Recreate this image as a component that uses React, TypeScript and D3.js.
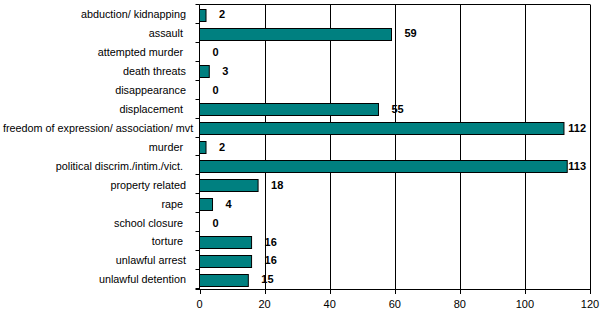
import React, { useEffect, useRef } from "react";
import * as d3 from "d3";

const categories = [
  "abduction/ kidnapping",
  "assault ",
  "attempted murder ",
  "death threats",
  "disappearance",
  "displacement ",
  "freedom of expression/ association/ mvt",
  "murder ",
  "political discrim./intim./vict. ",
  "property related",
  "rape ",
  "school closure ",
  "torture ",
  "unlawful arrest",
  "unlawful detention",
];
const values = [2, 59, 0, 3, 0, 55, 112, 2, 113, 18, 4, 0, 16, 16, 15];
const xTicks = [0, 20, 40, 60, 80, 100, 120];

const W = 607;
const H = 316;
const margin = { left: 199.5, right: 17, top: 5, bottom: 27 };
const FONT = "Arial, 'Liberation Sans', sans-serif";

export default function App() {
  const ref = useRef<SVGSVGElement>(null);

  useEffect(() => {
    const svg = d3.select(ref.current);
    svg.selectAll("*").remove();
    const x = d3.scaleLinear().domain([0, 120]).range([margin.left, W - margin.right]);
    const y = d3
      .scaleBand<string>()
      .domain(categories)
      .range([margin.top, H - margin.bottom])
      .paddingInner(0.38)
      .paddingOuter(0.19);
    const y0 = margin.top;
    const y1 = H - margin.bottom;
    const step = y.step();

    // gridlines
    svg
      .append("g")
      .selectAll("line")
      .data(xTicks.filter((t) => t > 0))
      .join("line")
      .attr("x1", (d) => Math.round(x(d)) + 0.5)
      .attr("x2", (d) => Math.round(x(d)) + 0.5)
      .attr("y1", y0)
      .attr("y2", y1)
      .attr("stroke", "#000")
      .attr("stroke-width", 1);
    // top border
    svg
      .append("line")
      .attr("x1", x(0))
      .attr("x2", Math.round(x(120)) + 0.5)
      .attr("y1", y0 - 0.5)
      .attr("y2", y0 - 0.5)
      .attr("stroke", "#000");

    // bars
    svg
      .append("g")
      .selectAll("rect")
      .data(values)
      .join("rect")
      .attr("x", x(0))
      .attr("y", (d, i) => Math.round(y(categories[i])!) + 0.5)
      .attr("width", (d) => Math.max(0, x(d) - x(0)))
      .attr("height", Math.round(y.bandwidth()))
      .attr("fill", "#008080")
      .attr("stroke", "#000")
      .attr("stroke-width", 1)
      .style("display", (d) => (d === 0 ? "none" : null));

    // value labels
    const vl = svg
      .append("g")
      .selectAll("text")
      .data(values)
      .join("text")
      .attr("x", (d) => x(d) + 13)
      .attr("y", (d, i) => y(categories[i])! + y.bandwidth() / 2)
      .attr("dy", "0.35em")
      .attr("font-family", FONT)
      .attr("font-size", 11)
      .attr("font-weight", "bold")
      .attr("fill", "#000")
      .text((d) => String(d));
    const maxEnd = x(120) - 4;
    vl.each(function (d) {
      const t = this as SVGTextElement;
      const w = t.getComputedTextLength();
      const start = x(d as number) + 13;
      if (start + w > maxEnd) d3.select(t).attr("x", maxEnd - w);
    });

    // left axis
    svg
      .append("line")
      .attr("x1", x(0))
      .attr("x2", x(0))
      .attr("y1", y0 - 0.5)
      .attr("y2", y1)
      .attr("stroke", "#000");
    svg
      .append("g")
      .selectAll("line")
      .data(d3.range(categories.length + 1))
      .join("line")
      .attr("x1", x(0) - 4)
      .attr("x2", x(0))
      .attr("y1", (i) => Math.round(y0 + i * step) - 0.5)
      .attr("y2", (i) => Math.round(y0 + i * step) - 0.5)
      .attr("stroke", "#000");
    const catText = svg
      .append("g")
      .selectAll("text")
      .data(categories)
      .join("text")
      .attr("x", 186)
      .attr("y", (d) => y(d)! + y.bandwidth() / 2)
      .attr("dy", "0.35em")
      .attr("text-anchor", "end")
      .attr("font-family", FONT)
      .attr("font-size", 10.8)
      .attr("fill", "#000")
      .style("white-space", "pre")
      .text((d) => d);
    catText.each(function () {
      const t = this as SVGTextElement;
      const w = t.getComputedTextLength();
      if (186 - w < 3) {
        d3.select(t).attr("text-anchor", "start").attr("x", 3);
      }
    });

    // bottom axis
    svg
      .append("line")
      .attr("x1", x(0) - 4)
      .attr("x2", Math.round(x(120)) + 0.5)
      .attr("y1", y1 + 0.5)
      .attr("y2", y1 + 0.5)
      .attr("stroke", "#000");
    svg
      .append("g")
      .selectAll("line")
      .data(xTicks)
      .join("line")
      .attr("x1", (d) => Math.round(x(d)) + 0.5)
      .attr("x2", (d) => Math.round(x(d)) + 0.5)
      .attr("y1", y1)
      .attr("y2", y1 + 5)
      .attr("stroke", "#000");
    svg
      .append("g")
      .selectAll("text")
      .data(xTicks)
      .join("text")
      .attr("x", (d) => x(d))
      .attr("y", y1 + 19)
      .attr("text-anchor", "middle")
      .attr("font-family", FONT)
      .attr("font-size", 11)
      .attr("fill", "#000")
      .text((d) => String(d));
  }, []);

  return (
    <svg
      ref={ref}
      width={W}
      height={H}
      style={{ position: "absolute", left: 0, top: 0, background: "#fff" }}
    />
  );
}
